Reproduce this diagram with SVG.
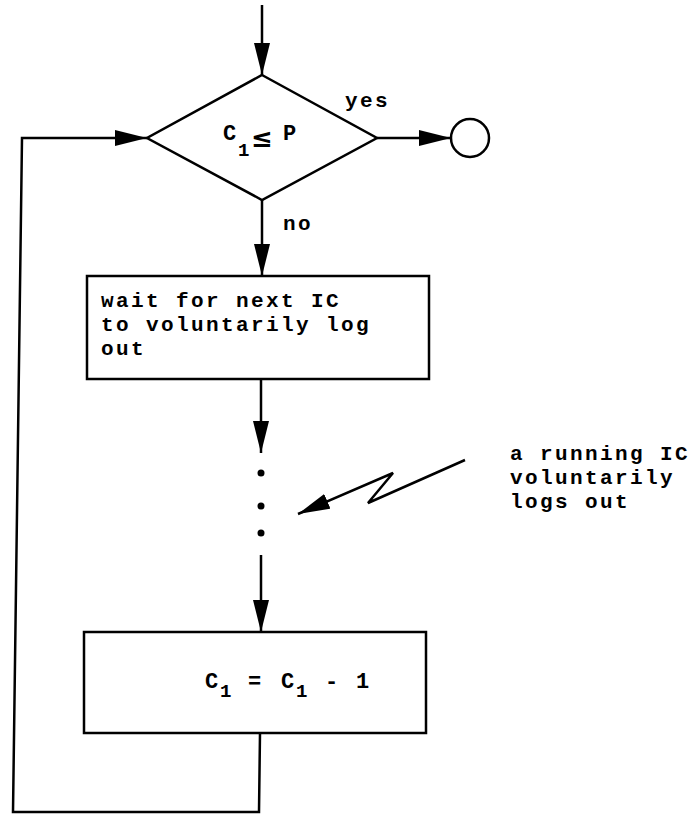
<svg xmlns="http://www.w3.org/2000/svg" width="697" height="816" viewBox="0 0 697 816">
<style>
.shape{fill:#fff;stroke:#000;stroke-width:2.5}
.line{fill:none;stroke:#000;stroke-width:2.5}
.t{font-family:"Liberation Mono","DejaVu Sans Mono",monospace;font-size:21px;letter-spacing:2.4px;font-weight:bold;fill:#000}
.f{font-family:"Liberation Mono","DejaVu Sans Mono",monospace;font-size:22px;font-weight:bold;fill:#000}
.s{font-family:"Liberation Mono","DejaVu Sans Mono",monospace;font-size:19px;font-weight:bold;fill:#000}
</style>
<defs>
<marker id="ah" markerUnits="userSpaceOnUse" markerWidth="34" markerHeight="18" refX="32" refY="8" orient="auto">
<path d="M0,0 L32,8 L0,16 z" fill="#000"/>
</marker>
</defs>
<rect width="697" height="816" fill="#fff"/>
<g id="connectors">
<line class="line" x1="262" y1="5" x2="262" y2="75" marker-end="url(#ah)"/>
<line class="line" x1="377" y1="138" x2="451" y2="138" marker-end="url(#ah)"/>
<line class="line" x1="262" y1="200" x2="262" y2="276" marker-end="url(#ah)"/>
<line class="line" x1="261" y1="380" x2="261" y2="453" marker-end="url(#ah)"/>
<circle cx="261" cy="473" r="3.5" fill="#000"/>
<circle cx="261" cy="506" r="3.5" fill="#000"/>
<circle cx="261" cy="533" r="3.5" fill="#000"/>
<line class="line" x1="261" y1="555" x2="261" y2="632" marker-end="url(#ah)"/>
<polyline class="line" points="260,733 259,812 13,812 22,138 147,138" marker-end="url(#ah)"/>
<polyline class="line" points="465,460 368,503 393,473 298,514" marker-end="url(#ah)"/>
</g>
<g id="decision">
<polygon class="shape" points="262,75 377,138 262,200 147,138"/>
<text class="f" x="223" y="140">C</text>
<text class="s" x="238" y="156">1</text>
<text x="251" y="147" style="font-family:'DejaVu Sans',sans-serif;font-size:26px;font-weight:bold">≤</text>
<text class="f" x="283" y="140">P</text>
<text class="t" x="345" y="107">yes</text>
<text class="t" x="283" y="230">no</text>
</g>
<g id="end">
<circle class="shape" cx="470" cy="138" r="19"/>
</g>
<g id="wait">
<rect class="shape" x="87" y="276" width="342" height="103"/>
<text class="t" x="101" y="307">wait for next IC</text>
<text class="t" x="101" y="331">to voluntarily log</text>
<text class="t" x="101" y="355">out</text>
</g>
<g id="note">
<text class="t" x="510" y="460">a running IC</text>
<text class="t" x="510" y="484">voluntarily</text>
<text class="t" x="510" y="508">logs out</text>
</g>
<g id="decrement">
<rect class="shape" x="84" y="632" width="342" height="101"/>
<text class="f" x="205" y="688">C</text>
<text class="s" x="220" y="697">1</text>
<text class="f" x="248" y="688">=</text>
<text class="f" x="281" y="688">C</text>
<text class="s" x="296" y="697">1</text>
<text class="f" x="325" y="688">-</text>
<text class="f" x="356" y="688">1</text>
</g>
</svg>
